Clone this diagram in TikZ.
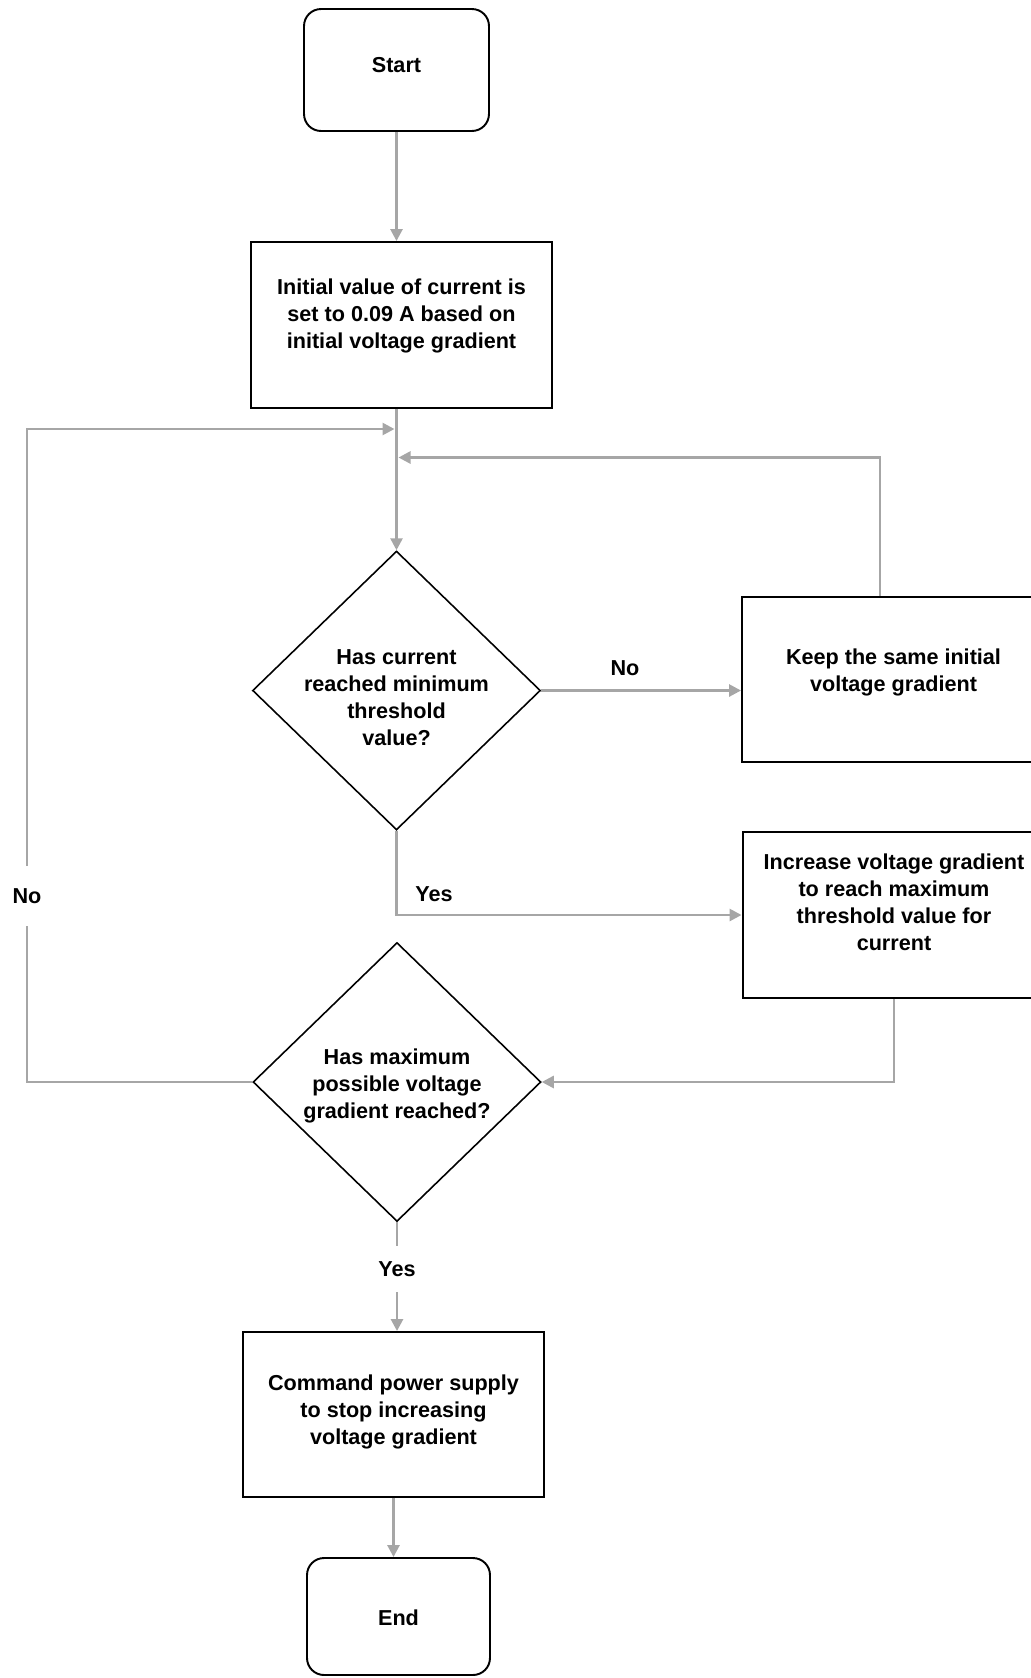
\documentclass[tikz,border=0pt]{standalone}
\usepackage{fontspec}
\setmainfont{Liberation Sans}
\usepackage{tikz}
\usetikzlibrary{shapes.geometric, arrows.meta, positioning}
\definecolor{flowgrey}{RGB}{166, 166, 166}
\newcommand{\boxtext}[2]{\raisebox{#1}[0pt][0pt]{\begin{tabular}{@{}c@{}}#2\end{tabular}}}

\begin{document}
\begin{tikzpicture}[x=0.02cm, y=-0.02cm,
  font=\bfseries\fontsize{12.3}{15.4}\selectfont,
  terminal/.style={draw=black, line width=1.1pt, rounded corners=0.34cm, minimum width=3.7cm, minimum height=2.44cm},
  procbox/.style={draw=black, line width=1.1pt, minimum width=6.02cm, minimum height=3.32cm},
  decision/.style={draw=black, line width=0.9pt, diamond, minimum width=5.76cm, minimum height=5.58cm, inner sep=0pt},
  answer/.style={inner sep=0pt},
  flow/.style={draw=flowgrey, line width=1.5pt, -{Triangle[length=0.24cm, width=0.24cm]}},
  link/.style={draw=flowgrey, line width=1.5pt}]

  \clip (0, 0) rectangle (1031, 1678);

  % main column
  \node[terminal] (start) at (396.5, 70) {\boxtext{-1.2pt}{Start}};
  \node[procbox] (init) at (401.5, 325) {\boxtext{2.3pt}{Initial value of current is\\set to 0.09 A based on\\initial voltage gradient}};
  \node[decision] (minchk) at (396.5, 690.5) {\boxtext{-8pt}{Has current\\reached minimum\\threshold\\value?}};
  \node[decision] (maxchk) at (397, 1082) {\boxtext{-5.3pt}{Has maximum\\possible voltage\\gradient reached?}};
  \node[procbox, minimum height=3.3cm] (stop) at (393.5, 1414.5) {\boxtext{-1.4pt}{Command power supply\\to stop increasing\\voltage gradient}};
  \node[terminal, minimum width=3.66cm, minimum height=2.34cm] (end) at (398.5, 1616.5) {\boxtext{-4.9pt}{End}};

  % side boxes (cut by the right edge)
  \node[procbox, minimum width=6.06cm, minimum height=3.3cm] (keep) at (893.5, 679.5) {\boxtext{1.1pt}{Keep the same initial\\voltage gradient}};
  \node[procbox, minimum width=6.06cm] (incr) at (894, 915) {\boxtext{2.8pt}{Increase voltage gradient\\to reach maximum\\threshold value for\\current}};

  % answers
  \node[answer] (noright) at (625, 668) {No};
  \node[answer] (yesright) at (434, 894) {Yes};
  \node[answer, minimum height=1.18cm] (noleft) at (27, 896) {No};
  \node[answer, minimum height=0.92cm] (yesdown) at (397, 1269) {Yes};
  \coordinate (loopleft) at (27, 429);
  \coordinate (loopright) at (880, 457.5);

  % connectors
  \draw[flow] (start.south) -- (start.south |- init.north);
  \draw[flow] (init.south -| minchk.north) -- (minchk.north);
  \draw[flow] (minchk.east) -- (minchk.east -| keep.west);
  \draw[flow] (keep.north -| loopright) -- (loopright) -- ([xshift=0.04cm]loopright -| minchk.north);
  \draw[flow] (minchk.south) |- (incr.west);
  \draw[flow] (incr.south) |- (maxchk.east);
  \draw[link] (maxchk.west) -| (noleft.south);
  \draw[flow] (noleft.north) -- (loopleft) -- ([xshift=-0.04cm]loopleft -| minchk.north);
  \draw[link] (maxchk.south) -- (yesdown.north);
  \draw[flow] (yesdown.south) -- (yesdown.south |- stop.north);
  \draw[flow] (stop.south) -- (stop.south |- end.north);
\end{tikzpicture}
\end{document}
